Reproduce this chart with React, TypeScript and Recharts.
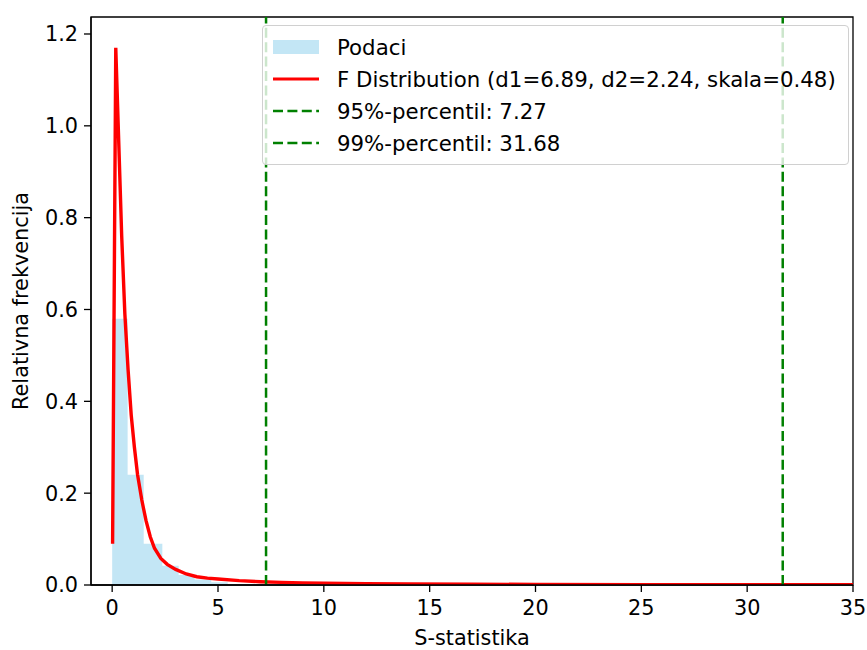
import React from "react";
import {
  ComposedChart,
  Area,
  Line,
  XAxis,
  YAxis,
  ReferenceLine,
  ReferenceArea,
} from "recharts";

// histogram (density)
const binEdges = [0, 0.73, 1.49, 2.37, 3.14, 3.9, 4.68, 5.46];
const binHeights = [0.58, 0.24, 0.09, 0.042, 0.022, 0.012, 0.006];

// fitted F curve, sampled by eye
const pdfX = [
  0.02, 0.17, 0.3, 0.45, 0.6, 0.75, 0.9, 1.05, 1.2, 1.4, 1.6, 1.8, 2.0, 2.3,
  2.6, 3.0, 3.5, 4.0, 4.5, 5, 6, 7, 8, 9, 10, 12, 14, 17, 20, 25, 30, 35,
];
const pdfY = [
  0.09, 1.17, 0.98, 0.76, 0.59, 0.47, 0.37, 0.3, 0.24, 0.185, 0.14, 0.105,
  0.08, 0.058, 0.045, 0.034, 0.024, 0.018, 0.015, 0.013, 0.0095, 0.0072,
  0.0057, 0.0047, 0.004, 0.003, 0.0023, 0.0017, 0.0013, 0.0009, 0.0007,
  0.0005,
];

const percentiles = [
  { name: "95%-percentil", value: 7.27 },
  { name: "99%-percentil", value: 31.68 },
];

const xTicks = [0, 5, 10, 15, 20, 25, 30, 35];
const yTicks = [0, 0.2, 0.4, 0.6, 0.8, 1.0, 1.2];
const xDomain = [-1, 35];
const yDomain = [0, 1.237];

const fitLabel = "F Distribution (d1=6.89, d2=2.24, skala=0.48)";

type Row = { x: number; hist?: number; pdf?: number };

function buildRows(): Row[] {
  const map = new Map<number, Row>();
  const get = (x: number) => {
    if (!map.has(x)) map.set(x, { x });
    return map.get(x)!;
  };
  binEdges.forEach((e, i) => {
    get(e).hist = i < binHeights.length ? binHeights[i] : 0;
  });
  pdfX.forEach((x, i) => {
    get(x).pdf = pdfY[i];
  });
  return Array.from(map.values()).sort((a, b) => a.x - b.x);
}

const rows = buildRows();

const FONT = "'DejaVu Sans', sans-serif";
const FS = 20.8;
const LEGEND_FS = 21.3;
const GREEN = "#008000";
const DASH = "10 4.4";

const tickStyle = { fill: "#000", fontSize: FS, fontFamily: FONT };

function XLabel(props: any) {
  const { x, y, width } = props.viewBox;
  return (
    <text
      x={x + width / 2}
      y={y + 53}
      textAnchor="middle"
      dominantBaseline="central"
      fill="#000"
      fontSize={FS}
      fontFamily={FONT}
    >
      S-statistika
    </text>
  );
}

function YLabel(props: any) {
  const { y, height } = props.viewBox;
  const cx = 21;
  const cy = y + height / 2;
  return (
    <text
      x={cx}
      y={cy}
      transform={`rotate(-90 ${cx} ${cy})`}
      textAnchor="middle"
      dominantBaseline="central"
      fill="#000"
      fontSize={FS}
      fontFamily={FONT}
    >
      Relativna frekvencija
    </text>
  );
}

function LegendBox() {
  const row = (top: number, handle: React.ReactNode, text: string) => (
    <div
      style={{
        position: "absolute",
        left: 9,
        top,
        height: 32,
        display: "flex",
        alignItems: "center",
        whiteSpace: "nowrap",
      }}
    >
      <svg width={48} height={32} style={{ marginRight: 17 }}>
        {handle}
      </svg>
      <span>{text}</span>
    </div>
  );
  return (
    <div
      style={{
        position: "absolute",
        left: 262,
        top: 25,
        width: 587,
        height: 140,
        boxSizing: "border-box",
        border: "1px solid #d0d0d0",
        borderRadius: 4,
        background: "rgba(255,255,255,0.8)",
        fontFamily: FONT,
        fontSize: LEGEND_FS,
        color: "#000",
      }}
    >
      {row(
        5,
        <rect x={1} y={9} width={46} height={14} fill="#87ceeb" fillOpacity={0.5} />,
        "Podaci"
      )}
      {row(37, <line x1={1} x2={47} y1={16} y2={16} stroke="#ff0000" strokeWidth={3.2} />, fitLabel)}
      {percentiles.map((p, i) =>
        row(
          69 + i * 32,
          <line
            x1={1}
            x2={47}
            y1={16}
            y2={16}
            stroke={GREEN}
            strokeWidth={2.5}
            strokeDasharray={DASH}
          />,
          `${p.name}: ${p.value.toFixed(2)}`
        )
      )}
    </div>
  );
}

export default function App() {
  return (
    <div
      style={{
        position: "absolute",
        left: 0,
        top: 0,
        width: 867,
        height: 650,
        background: "#fff",
      }}
    >
      <ComposedChart
        width={867}
        height={650}
        data={rows}
        margin={{ top: 17, right: 14, bottom: 25, left: 31 }}
      >
        <XAxis
          dataKey="x"
          type="number"
          domain={xDomain}
          ticks={xTicks}
          allowDataOverflow
          height={40}
          stroke="#000"
          strokeWidth={1.3}
          tickSize={7}
          tickMargin={8}
          tick={tickStyle}
          label={<XLabel />}
        />
        <YAxis
          type="number"
          domain={yDomain}
          ticks={yTicks}
          allowDataOverflow
          width={60}
          stroke="#000"
          strokeWidth={1.3}
          tickSize={7}
          tickMargin={6}
          tick={tickStyle}
          tickFormatter={(v: number) => v.toFixed(1)}
          label={<YLabel />}
        />
        <Area
          dataKey="hist"
          type="stepAfter"
          connectNulls
          stroke="none"
          fill="#87ceeb"
          fillOpacity={0.5}
          baseValue={0}
          dot={false}
          activeDot={false}
          isAnimationActive={false}
        />
        <Line
          dataKey="pdf"
          type="linear"
          connectNulls
          stroke="#ff0000"
          strokeWidth={3.4}
          dot={false}
          activeDot={false}
          isAnimationActive={false}
        />
        {percentiles.map((p) => (
          <ReferenceLine
            key={p.name}
            x={p.value}
            stroke={GREEN}
            strokeWidth={2.5}
            strokeDasharray={DASH}
          />
        ))}
        <ReferenceArea
          x1={xDomain[0]}
          x2={xDomain[1]}
          y1={yDomain[0]}
          y2={yDomain[1]}
          fill="none"
          stroke="#000"
          strokeWidth={1.3}
        />
      </ComposedChart>
      <LegendBox />
    </div>
  );
}
